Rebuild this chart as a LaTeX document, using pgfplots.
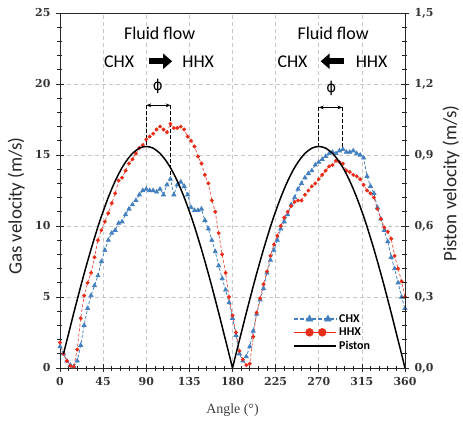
\documentclass[border=0pt]{standalone}
\usepackage{fontspec}
\setmainfont{Carlito}
\newfontfamily\tickfont{DejaVu Serif}
\newfontfamily\labserif{Liberation Serif}
\newfontfamily\symfont{DejaVu Sans}
\usepackage{pgfplots}
\usepackage{pgfplotstable}
\pgfplotsset{compat=1.18}
\usetikzlibrary{arrows.meta}
\definecolor{cblue}{RGB}{68,128,192}
\definecolor{cred}{RGB}{232,45,25}
\definecolor{gridc}{RGB}{200,200,200}

\pgfplotstableread{
a v
0 1.8
3.6 1.0
7.2 0.5
10.8 0.15
14.4 0.1
18.0 1.3
21.6 3.5
25.2 5.1
28.8 6.0
32.4 6.7
36.0 7.8
39.6 9.0
43.2 9.7
46.8 10.3
50.4 10.9
54.0 11.6
57.6 12.3
61.2 13.2
64.8 13.4
68.4 13.9
72.0 14.4
75.6 14.7
79.2 15.1
82.8 15.5
86.4 15.7
90.0 16.1
93.6 16.3
97.2 16.5
100.8 16.8
104.4 17.0
108.0 16.8
111.6 16.6
115.2 17.2
118.8 16.9
122.4 16.9
126.0 17.0
129.6 16.8
133.2 16.3
136.8 16.0
140.4 15.6
144.0 14.9
147.6 14.4
151.2 13.6
154.8 13.0
158.4 11.8
162.0 11.0
165.6 9.5
169.2 8.0
172.8 6.7
176.4 5.0
180.0 3.7
183.6 2.5
187.2 1.2
190.8 0.6
194.4 0.2
198.0 0.3
201.6 2.2
205.2 3.9
208.8 4.9
212.4 5.9
216.0 6.8
219.6 7.9
223.2 8.7
226.8 9.3
230.4 10.0
234.0 10.6
237.6 11.0
241.2 11.4
244.8 11.7
248.4 11.8
252.0 11.8
255.6 12.2
259.2 12.5
262.8 12.8
266.4 13.0
270.0 13.3
273.6 13.6
277.2 13.9
280.8 14.2
284.4 14.3
288.0 14.6
291.6 14.5
295.2 14.4
298.8 13.9
302.4 13.8
306.0 13.6
309.6 13.5
313.2 13.3
316.8 12.9
320.4 12.5
324.0 12.3
327.6 12.0
331.2 11.2
334.8 10.5
338.4 9.9
342.0 9.6
345.6 9.1
349.2 7.9
352.8 7.0
356.4 6.1
360.0 5.0
}\hhx

\pgfplotstableread{
a v
0 1.5
3.6 1.0
7.2 0.5
10.8 0.2
14.4 0.1
18.0 0.5
21.6 1.6
25.2 3.0
28.8 4.2
32.4 5.1
36.0 5.8
39.6 6.5
43.2 7.5
46.8 8.3
50.4 9.0
54.0 9.5
57.6 9.7
61.2 10.2
64.8 10.3
68.4 10.8
72.0 11.2
75.6 11.5
79.2 11.8
82.8 12.2
86.4 12.5
90.0 12.6
93.6 12.5
97.2 12.5
100.8 12.4
104.4 12.6
108.0 12.2
111.6 12.9
115.2 13.3
118.8 12.2
122.4 12.9
126.0 13.1
129.6 12.8
133.2 12.2
136.8 11.3
140.4 11.1
144.0 11.1
147.6 11.2
151.2 10.4
154.8 9.8
158.4 9.0
162.0 8.2
165.6 7.2
169.2 6.3
172.8 5.5
176.4 4.6
180.0 3.5
183.6 2.3
187.2 1.0
190.8 0.5
194.4 0.8
198.0 1.5
201.6 2.6
205.2 3.8
208.8 4.8
212.4 5.6
216.0 6.7
219.6 7.6
223.2 8.3
226.8 9.0
230.4 9.8
234.0 10.3
237.6 10.8
241.2 11.5
244.8 12.0
248.4 12.6
252.0 13.0
255.6 13.4
259.2 13.7
262.8 13.9
266.4 14.3
270.0 14.5
273.6 14.7
277.2 14.9
280.8 15.1
284.4 15.2
288.0 15.1
291.6 15.3
295.2 15.4
298.8 15.2
302.4 15.2
306.0 15.3
309.6 15.1
313.2 15.0
316.8 14.8
320.4 13.5
324.0 12.8
327.6 12.3
331.2 11.3
334.8 10.5
338.4 9.7
342.0 8.9
345.6 7.8
349.2 7.0
352.8 6.0
356.4 5.0
360.0 4.2
}\chx

\pgfplotstableread{
a v
3.6 0.059
7.2 0.117
10.8 0.175
14.4 0.233
18.0 0.289
21.6 0.345
25.2 0.399
28.8 0.451
32.4 0.502
36.0 0.550
39.6 0.597
43.2 0.641
46.8 0.682
50.4 0.721
54.0 0.757
57.6 0.790
61.2 0.820
64.8 0.847
68.4 0.870
72.0 0.890
75.6 0.907
79.2 0.919
82.8 0.929
86.4 0.934
90.0 0.936
93.6 0.934
97.2 0.929
100.8 0.919
104.4 0.907
108.0 0.890
111.6 0.870
115.2 0.847
118.8 0.820
122.4 0.790
126.0 0.757
129.6 0.721
133.2 0.682
136.8 0.641
140.4 0.597
144.0 0.550
147.6 0.502
151.2 0.451
154.8 0.399
158.4 0.345
162.0 0.289
165.6 0.233
169.2 0.175
172.8 0.117
176.4 0.059
180.0 0.000
183.6 0.059
187.2 0.117
190.8 0.175
194.4 0.233
198.0 0.289
201.6 0.345
205.2 0.399
208.8 0.451
212.4 0.502
216.0 0.550
219.6 0.597
223.2 0.641
226.8 0.682
230.4 0.721
234.0 0.757
237.6 0.790
241.2 0.820
244.8 0.847
248.4 0.870
252.0 0.890
255.6 0.907
259.2 0.919
262.8 0.929
266.4 0.934
270.0 0.936
273.6 0.934
277.2 0.929
280.8 0.919
284.4 0.907
288.0 0.890
291.6 0.870
295.2 0.847
298.8 0.820
302.4 0.790
306.0 0.757
309.6 0.721
313.2 0.682
316.8 0.641
320.4 0.597
324.0 0.550
327.6 0.502
331.2 0.451
334.8 0.399
338.4 0.345
342.0 0.289
345.6 0.233
349.2 0.175
352.8 0.117
356.4 0.059
360.0 0.000
}\piston

\begin{document}
\begin{tikzpicture}
\pgfplotsset{
  common/.style={
    width=345bp, height=355bp, scale only axis,
    xmin=0, xmax=360,
    /pgf/number format/assume math mode=true,
    tick align=center,
    major tick length=8bp, minor tick length=5bp,
    every tick/.style={black!85, line width=0.7pt},
    axis line style={black!85, line width=0.8pt},
    ticklabel style={font=\tickfont\bfseries\fontsize{11}{12}\selectfont, text=black!80},
  }
}
\begin{axis}[common, name=ax,
  ymin=0, ymax=25,
  xtick={0,45,...,360}, minor x tick num=4,
  ytick={0,5,...,25}, minor y tick num=4,
  xtick pos=lower, ytick pos=left,
  grid=major, grid style={gridc, dash pattern=on 4pt off 3pt, line width=0.6pt},
  xlabel={Angle (°)},
  xlabel style={font=\labserif\fontsize{14}{16}\selectfont, text=black!75, at={(axis description cs:0.5,-0.118)}, anchor=center},
  ylabel={Gas velocity (m/s)},
  ylabel style={font=\fontsize{19}{22}\selectfont, text=black!85, at={(axis description cs:-0.127,0.456)}, anchor=center},
  yticklabel style={xshift=-2bp},
  xticklabel style={yshift=-2bp},
  legend style={draw=none, fill=none, at={(axis cs:242,4.0)}, anchor=north west,
    font=\bfseries\fontsize{12}{13}\selectfont, row sep=0bp, inner sep=1bp},
  legend cell align=left,
]
\addplot[forget plot, cblue, line width=0.8pt, dash pattern=on 3pt off 2pt,
  mark=triangle*, mark size=2.3pt, mark options={solid, fill=cblue, draw=cblue}] table[x=a,y=v] {\chx};
\addplot[forget plot, cred!85, line width=0.7pt, dash pattern=on 3pt off 2pt,
  mark=*, mark size=1.6pt, mark options={solid, fill=cred, draw=cred}] table[x=a,y=v] {\hhx};

\addlegendimage{legend image code/.code={
  \draw[cblue, line width=1.3pt, dash pattern=on 4pt off 2pt] (0cm,0cm) -- (1.5cm,0cm);
  \draw[cblue, fill=cblue, mark=triangle*, mark size=4pt, only marks] plot coordinates {(0.55cm,0cm) (1.2cm,0cm)};
}}
\addlegendentry{CHX}
\addlegendimage{legend image code/.code={
  \draw[cred, line width=1.6pt] (0cm,0cm) -- (1.5cm,0cm);
  \draw[cred, fill=cred, mark=*, mark size=4pt, only marks] plot coordinates {(0.55cm,0cm) (1.0cm,0cm)};
}}
\addlegendentry{HHX}
\addlegendimage{legend image code/.code={
  \draw[black, line width=1.5pt] (0cm,0cm) -- (1.5cm,0cm);
}}
\addlegendentry{Piston}

% annotations (left)
\node[font=\fontsize{18}{20}\selectfont] at (axis cs:104,23.6) {Fluid flow};
\node[font=\fontsize{18}{20}\selectfont, anchor=east] at (axis cs:81,21.6) {CHX};
\node[font=\fontsize{18}{20}\selectfont, anchor=west] at (axis cs:124,21.6) {HHX};
\draw[black, line width=6bp, -{Triangle[length=9bp,width=15bp]}] (axis cs:93,21.6) -- (axis cs:117,21.6);
\node[font=\symfont\fontsize{15}{18}\selectfont] at (axis cs:102,19.8) {ϕ};
\draw[black, line width=1.2pt, {Stealth[length=5bp]}-{Stealth[length=5bp]}] (axis cs:90,18.5) -- (axis cs:115.5,18.5);
\draw[black, line width=1.2pt, dash pattern=on 4pt off 2pt] (axis cs:90,18.5) -- (axis cs:90,15.6);
\draw[black, line width=1.2pt, dash pattern=on 4pt off 2pt] (axis cs:115.5,18.5) -- (axis cs:115.5,13.3);
% annotations (right)
\node[font=\fontsize{18}{20}\selectfont] at (axis cs:285,23.6) {Fluid flow};
\node[font=\fontsize{18}{20}\selectfont, anchor=east] at (axis cs:262,21.6) {CHX};
\node[font=\fontsize{18}{20}\selectfont, anchor=west] at (axis cs:305,21.6) {HHX};
\draw[black, line width=6bp, -{Triangle[length=9bp,width=15bp]}] (axis cs:296,21.6) -- (axis cs:272,21.6);
\node[font=\symfont\fontsize{15}{18}\selectfont] at (axis cs:283,19.7) {ϕ};
\draw[black, line width=1.2pt, {Stealth[length=5bp]}-{Stealth[length=5bp]}] (axis cs:270,18.35) -- (axis cs:294.7,18.35);
\draw[black, line width=1.2pt, dash pattern=on 4pt off 2pt] (axis cs:270,18.35) -- (axis cs:270,15.6);
\draw[black, line width=1.2pt, dash pattern=on 4pt off 2pt] (axis cs:294.7,18.35) -- (axis cs:294.7,15.4);
\end{axis}

\begin{axis}[common,
  ymin=0, ymax=1.5,
  axis x line=none, axis y line*=right,
  ytick={0,0.3,...,1.5}, minor y tick num=4,
  /pgf/number format/fixed, /pgf/number format/fixed zerofill,
  /pgf/number format/precision=1, /pgf/number format/use comma,
  yticklabel style={xshift=2bp},
  ylabel={Piston velocity (m/s)},
  ylabel style={font=\fontsize{19}{22}\selectfont, text=black!85, at={(axis description cs:1.133,0.52)}, anchor=center},
]
\addplot[black, line width=1.5pt, no marks] table[x=a,y=v] {\piston};
\end{axis}
\pgfresetboundingbox
\path ([shift={(-60bp,-58bp)}]ax.south west) rectangle ([shift={(58bp,13bp)}]ax.north east);
\end{tikzpicture}
\end{document}
